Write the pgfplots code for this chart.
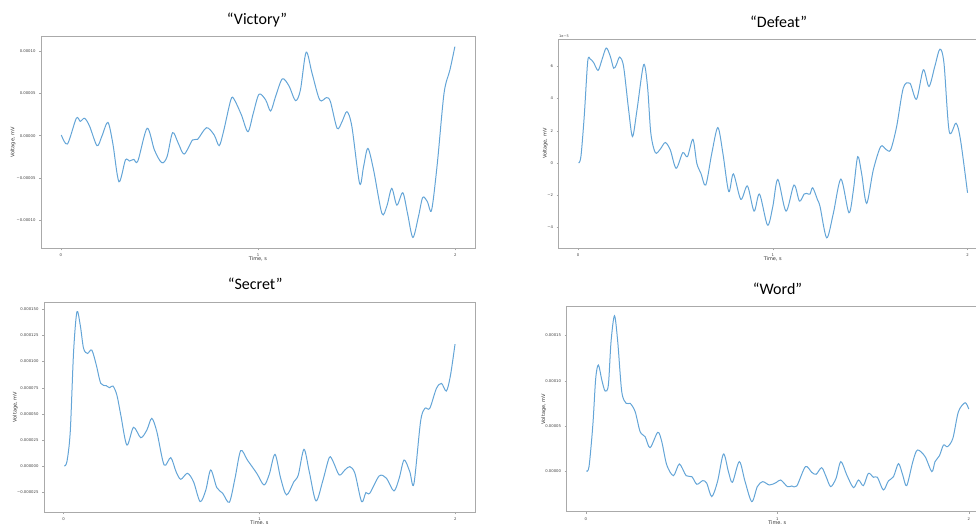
\documentclass[border=0pt]{standalone}
\usepackage{pgfplots}
\pgfplotsset{compat=1.18}
\usepackage{fontspec}
\setmainfont{DejaVu Sans}
\newfontfamily\titlefont{Carlito}
\definecolor{curveblue}{RGB}{100,165,215}
\definecolor{framegray}{RGB}{170,170,170}
\pgfplotsset{
  myaxis/.style={
    scale only axis, anchor=south west,
    xmin=-0.1, xmax=2.1,
    xtick={0,1,2}, xticklabels={0,1,2},
    xtick pos=bottom, ytick pos=left,
    tick align=outside, major tick length=2pt,
    tick style={gray!70, line width=0.4pt},
    axis line style={draw=framegray, line width=0.8pt},
    tick label style={font=\fontsize{3.8}{4.5}\selectfont, text=black!75},
    xlabel={Time, s}, ylabel={Voltage, mV},
    label style={font=\fontsize{5}{6}\selectfont, text=black!80},
    xlabel style={at={(axis description cs:0.5,0)}, anchor=center, yshift=-10.7pt},
  },
  mycurve/.style={color=curveblue, line width=1pt, smooth, tension=0.5, mark=none},
}
\begin{document}
\begin{tikzpicture}
\path[use as bounding box] (0pt,0pt) rectangle (976pt,523pt);
\clip (0pt,0pt) rectangle (976pt,523pt);

% ---------------- Victory ----------------
\begin{axis}[myaxis, at={(41pt,274.7pt)}, width=434pt, height=211.6pt,
  ymin=-13.28, ymax=11.67,
  ytick={-10,-5,0,5,10},
  yticklabels={−0.00010,−0.00005,0.00000,0.00005,0.00010},
  ylabel style={at={(axis description cs:-0.0645,0.5)}, anchor=center}]
\addplot[mycurve] coordinates {
(0.003,0.08)(0.034,-0.98)(0.079,2.05)(0.099,1.69)(0.121,2.05)(0.146,1.14)
(0.184,-1.18)(0.209,-0.04)(0.239,1.57)(0.264,-0.9)(0.295,-5.43)(0.328,-2.87)
(0.348,-2.99)(0.370,-2.80)(0.391,-2.99)(0.438,0.87)(0.475,-1.69)(0.512,-3.19)
(0.539,-2.48)(0.567,0.35)(0.596,-0.9)(0.626,-2.17)(0.668,-0.51)(0.694,-0.43)
(0.739,0.94)(0.778,0.08)(0.803,-1.18)(0.825,0.47)(0.862,4.21)(0.879,4.29)
(0.916,2.44)(0.949,0.47)(0.976,2.64)(1.005,4.88)(1.039,4.21)(1.064,2.91)
(1.089,4.61)(1.123,6.69)(1.157,5.87)(1.190,4.13)(1.215,5.39)(1.244,9.84)
(1.274,7.36)(1.313,4.21)(1.347,4.49)(1.367,4.02)(1.401,0.87)(1.426,1.65)
(1.451,2.83)(1.476,1.06)(1.515,-5.63)(1.535,-3.66)(1.557,-1.50)(1.586,-4.06)
(1.628,-9.17)(1.653,-8.31)(1.678,-6.22)(1.704,-8.19)(1.734,-6.73)(1.758,-9.17)
(1.785,-12.0)(1.813,-9.57)(1.835,-7.28)(1.859,-7.80)(1.880,-8.78)(1.909,-3.27)
(1.943,5.0)(1.973,7.76)(1.998,10.5)
};
\end{axis}

% ---------------- Defeat ----------------
\begin{axis}[myaxis, at={(558.5pt,274.7pt)}, width=428.5pt, height=209.3pt,
  ymin=-5.30, ymax=7.70,
  ytick={-4,-2,0,2,4,6},
  yticklabels={−4,−2,0,2,4,6},
  ylabel style={at={(axis description cs:-0.031,0.5)}, anchor=center}]
\addplot[mycurve] coordinates {
(0.003,0)(0.015,0.39)(0.032,2.88)(0.050,6.31)(0.063,6.45)(0.080,6.24)
(0.103,5.75)(0.123,6.41)(0.145,7.14)(0.166,6.62)(0.183,5.89)(0.197,6.10)
(0.214,6.58)(0.234,6.00)(0.260,3.30)(0.280,1.64)(0.303,3.30)(0.337,6.10)
(0.357,4.75)(0.374,1.85)(0.397,0.64)(0.422,0.85)(0.448,1.27)(0.474,0.81)
(0.504,-0.33)(0.538,0.64)(0.562,0.39)(0.590,1.47)(0.610,-0.02)(0.631,-0.64)
(0.656,-1.37)(0.687,0.60)(0.718,2.20)(0.744,0.60)(0.774,-1.78)(0.798,-0.68)
(0.836,-2.26)(0.870,-1.43)(0.904,-2.99)(0.932,-1.93)(0.973,-3.86)(1.000,-2.72)
(1.026,-1.02)(1.068,-2.99)(1.109,-1.37)(1.137,-2.37)(1.161,-1.93)(1.174,-1.89)
(1.191,-1.93)(1.205,-1.54)(1.229,-2.26)(1.243,-2.72)(1.277,-4.65)(1.311,-3.13)
(1.350,-1.00)(1.391,-3.09)(1.414,-1.68)(1.436,0.39)(1.456,-0.64)(1.482,-2.51)
(1.516,-0.44)(1.554,1.02)(1.581,0.85)(1.605,0.81)(1.636,2.26)(1.670,4.65)
(1.704,4.96)(1.738,3.96)(1.773,5.79)(1.802,4.75)(1.832,6.00)(1.858,7.07)
(1.879,6.20)(1.906,1.95)(1.941,2.47)(1.964,1.43)(2.000,-1.85)
};
\end{axis}
\node[anchor=south west, inner sep=0.5pt, font=\fontsize{3.5}{4}\selectfont, text=black!75] at (558.5pt,484.5pt) {1e−5};

% ---------------- Secret ----------------
\begin{axis}[myaxis, at={(44pt,10.7pt)}, width=431pt, height=210pt,
  ymin=-4.39, ymax=15.65,
  ytick={-2.5,0,2.5,5,7.5,10,12.5,15},
  yticklabels={−0.000025,0.000000,0.000025,0.000050,0.000075,0.000100,0.000125,0.000150},
  ylabel style={at={(axis description cs:-0.067,0.5)}, anchor=center}]
\addplot[mycurve] coordinates {
(0.003,0.03)(0.017,0.44)(0.034,3.30)(0.051,10.93)(0.068,14.74)(0.085,13.47)
(0.102,11.25)(0.122,10.77)(0.144,11.09)(0.167,9.66)(0.190,7.91)(0.218,7.69)
(0.235,7.50)(0.252,7.66)(0.272,6.80)(0.292,4.89)(0.323,2.03)(0.357,3.72)
(0.394,2.73)(0.425,3.46)(0.450,4.57)(0.476,3.30)(0.513,0.13)(0.547,0.83)
(0.574,-0.51)(0.598,-1.24)(0.632,-0.67)(0.663,-1.46)(0.697,-3.37)(0.726,-2.26)
(0.751,-0.35)(0.782,-2.03)(0.812,-2.57)(0.846,-3.43)(0.875,-1.14)(0.904,1.49)
(0.938,0.60)(0.986,-0.67)(1.023,-1.78)(1.050,-0.76)(1.079,1.14)(1.108,-1.14)
(1.138,-2.73)(1.176,-1.46)(1.198,-0.83)(1.227,1.62)(1.254,-0.51)(1.288,-3.30)
(1.322,-1.46)(1.356,0.83)(1.376,0.44)(1.407,-0.83)(1.436,-0.35)(1.461,-0.03)
(1.487,-0.67)(1.521,-3.37)(1.543,-2.51)(1.563,-2.57)(1.611,-0.92)(1.648,-1.14)
(1.686,-2.35)(1.713,-1.14)(1.738,0.60)(1.767,-0.51)(1.788,-1.68)(1.822,4.26)
(1.844,5.53)(1.869,5.53)(1.903,7.43)(1.929,7.91)(1.954,7.18)(1.975,8.70)
(1.998,11.66)
};
\end{axis}

% ---------------- Word ----------------
\begin{axis}[myaxis, at={(566.6pt,11.3pt)}, width=421.3pt, height=205pt,
  ymin=-4.46, ymax=18.17,
  ytick={0,5,10,15},
  yticklabels={0.00000,0.00005,0.00010,0.00015},
  ylabel style={at={(axis description cs:-0.054,0.5)}, anchor=center}]
\addplot[mycurve] coordinates {
(0.003,0.04)(0.017,0.51)(0.037,5.11)(0.052,10.26)(0.066,11.73)(0.084,10.07)
(0.101,8.86)(0.118,9.52)(0.132,14.30)(0.150,17.17)(0.167,14.30)(0.188,8.79)
(0.211,7.50)(0.232,7.50)(0.258,6.58)(0.284,4.37)(0.310,3.82)(0.336,2.61)
(0.376,4.30)(0.397,3.27)(0.423,0.70)(0.458,-0.48)(0.489,0.81)(0.524,-0.48)
(0.554,-0.59)(0.580,-1.43)(0.611,-1.03)(0.632,-1.32)(0.658,-2.79)(0.688,-1.14)
(0.719,1.91)(0.745,-0.04)(0.766,-1.21)(0.802,1.07)(0.832,-1.14)(0.867,-3.35)
(0.896,-1.69)(0.924,-1.14)(0.959,-1.51)(0.994,-1.25)(1.018,-0.96)(1.053,-1.69)
(1.076,-1.62)(1.102,-1.62)(1.147,0.51)(1.180,-0.11)(1.203,-0.33)(1.232,0.40)
(1.255,-0.59)(1.279,-1.69)(1.307,-0.77)(1.332,1.07)(1.363,-0.40)(1.398,-1.80)
(1.424,-0.96)(1.450,-1.58)(1.476,-0.22)(1.502,-0.66)(1.523,-0.66)(1.554,-2.06)
(1.580,-1.07)(1.607,-0.59)(1.633,0.85)(1.655,-0.40)(1.676,-1.58)(1.708,1.07)
(1.732,2.35)(1.772,1.62)(1.807,-0.04)(1.824,1.07)(1.847,1.73)(1.868,2.90)
(1.889,2.72)(1.917,3.64)(1.946,6.58)(1.981,7.57)(2.000,6.87)
};
\end{axis}

% ---------------- Titles ----------------
\node[font=\titlefont\fontsize{16}{19}\selectfont] at (257pt,503pt) {“Victory”};
\node[font=\titlefont\fontsize{16}{19}\selectfont] at (778.7pt,501.3pt) {“Defeat”};
\node[font=\titlefont\fontsize{16}{19}\selectfont] at (255.2pt,239pt) {“Secret”};
\node[font=\titlefont\fontsize{16}{19}\selectfont] at (777.5pt,234.7pt) {“Word”};
\end{tikzpicture}
\end{document}
